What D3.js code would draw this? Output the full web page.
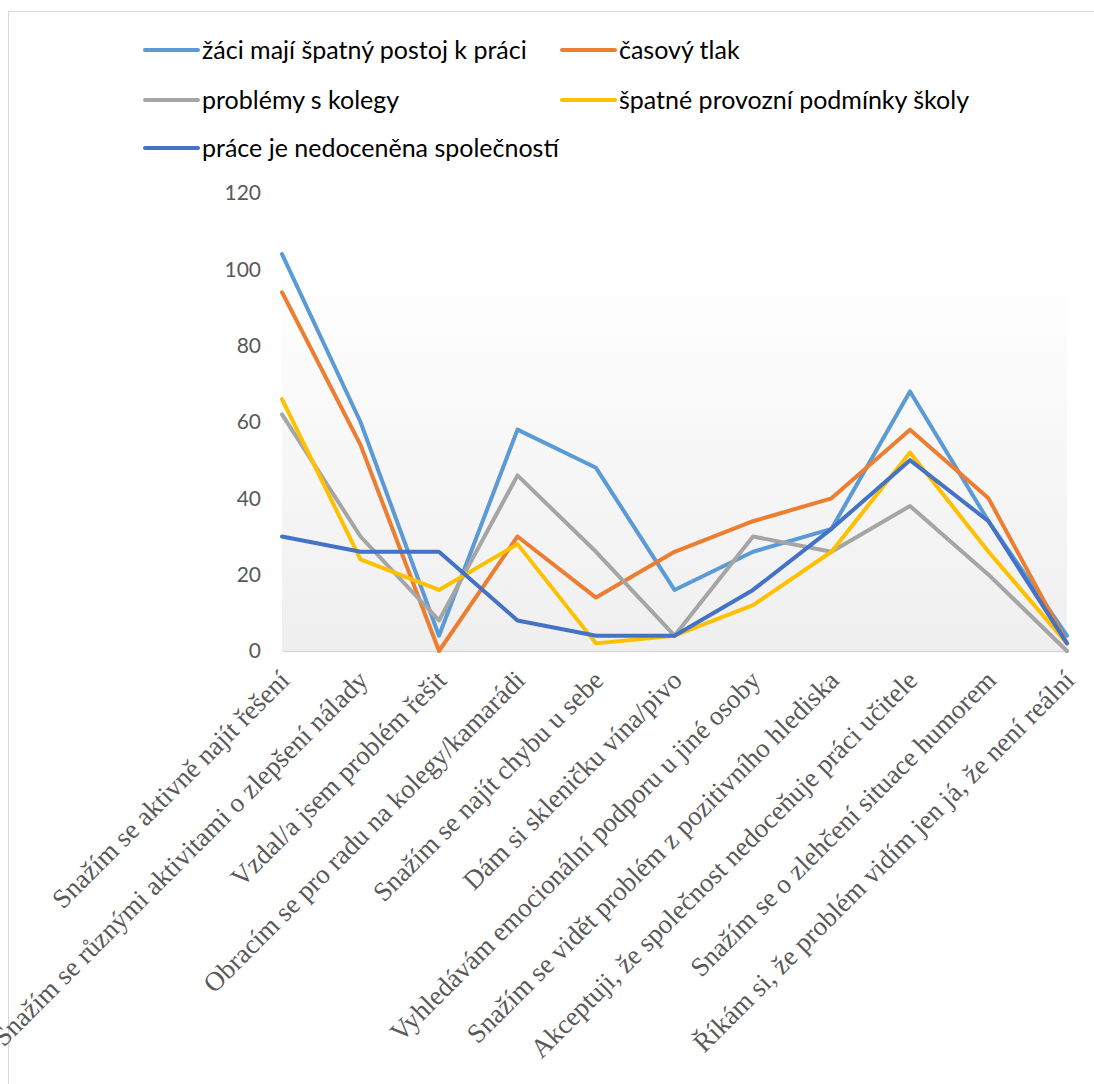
<!DOCTYPE html>
<html>
<head>
<meta charset="utf-8">
<script src="https://cdn.jsdelivr.net/npm/d3@7"></script>
<style>
  html, body { margin: 0; padding: 0; background: #fff; }
  svg { display: block; }
</style>
</head>
<body>
<div id="viz"></div>
<script>
'use strict';

// categories (x axis)
const categories = [
  'Snažím se aktivně najít řešení',
  'Snažím se různými aktivitami o zlepšení nálady',
  'Vzdal/a jsem problém řešit',
  'Obracím se pro radu na kolegy/kamarádi',
  'Snažím se najít chybu u sebe',
  'Dám si skleničku vína/pivo',
  'Vyhledávám emocionální podporu u jiné osoby',
  'Snažím se vidět problém z pozitivního hlediska',
  'Akceptuji, že společnost nedoceňuje práci učitele',
  'Snažím se o zlehčení situace humorem',
  'Říkám si, že problém vidím jen já, že není reální'
];

// series names
const seriesNames = [
  'žáci mají špatný postoj k práci',
  'časový tlak',
  'problémy s kolegy',
  'špatné provozní podmínky školy',
  'práce je nedoceněna společností'
];

// series values
const zaciValues = [104, 60, 4, 58, 48, 16, 26, 32, 68, 34, 4];
const casovyValues = [94, 54, 0, 30, 14, 26, 34, 40, 58, 40, 2];
const kolegoveValues = [62, 30, 8, 46, 26, 4, 30, 26, 38, 20, 0];
const podminkyValues = [66, 24, 16, 28, 2, 4, 12, 26, 52, 26, 2];
const nedocenenaValues = [30, 26, 26, 8, 4, 4, 16, 32, 50, 34, 2];

const yTicks = [0, 20, 40, 60, 80, 100, 120];

const colors = ['#5B9BD5', '#ED7D31', '#A5A5A5', '#FFC000', '#4472C4'];

const series = [zaciValues, casovyValues, kolegoveValues, podminkyValues, nedocenenaValues]
  .map((vals, i) => ({ name: seriesNames[i], color: colors[i], values: vals }));

const W = 1094, H = 1084;
const plot = { left: 282, right: 1067, top: 193, bottom: 651 };

const svg = d3.select('#viz').append('svg')
  .attr('width', W)
  .attr('height', H);

// chart border
svg.append('rect')
  .attr('x', 8.5).attr('y', 11.5)
  .attr('width', W).attr('height', H)
  .attr('fill', 'none')
  .attr('stroke', '#d9d9d9')
  .attr('stroke-width', 1);

// plot background gradient
const defs = svg.append('defs');
const grad = defs.append('linearGradient')
  .attr('id', 'plotGrad')
  .attr('x1', 0).attr('y1', 0).attr('x2', 0).attr('y2', 1);
grad.append('stop').attr('offset', '0%').attr('stop-color', '#ffffff');
grad.append('stop').attr('offset', '15%').attr('stop-color', '#fdfdfd');
grad.append('stop').attr('offset', '100%').attr('stop-color', '#efefef');

const xScale = d3.scalePoint()
  .domain(categories)
  .range([plot.left, plot.right]);

const yScale = d3.scaleLinear()
  .domain([0, 120])
  .range([plot.bottom, plot.top]);

svg.append('rect')
  .attr('x', plot.left)
  .attr('y', yScale(100) - 18)
  .attr('width', plot.right - plot.left)
  .attr('height', plot.bottom - yScale(100) + 18)
  .attr('fill', 'url(#plotGrad)');

// y axis (labels only)
const yAxis = svg.append('g')
  .attr('class', 'y axis')
  .attr('transform', `translate(${plot.left},0)`)
  .call(d3.axisLeft(yScale).tickValues(yTicks).tickSize(0).tickPadding(21));
yAxis.select('.domain').remove();
yAxis.selectAll('text')
  .style('font-family', 'Lato, "Open Sans", sans-serif')
  .style('font-size', '21px')
  .attr('fill', '#595959');

// x axis line
const xAxis = svg.append('g')
  .attr('class', 'x axis')
  .attr('transform', `translate(0,${plot.bottom})`)
  .call(d3.axisBottom(xScale).tickSize(0).tickFormat(''));
xAxis.select('.domain')
  .attr('stroke', '#d9d9d9')
  .attr('stroke-width', 1.5);

// rotated category labels
svg.append('g')
  .attr('class', 'x labels')
  .selectAll('text')
  .data(categories)
  .join('text')
  .attr('transform', d => `translate(${xScale(d) + 9},${plot.bottom + 31}) rotate(-45)`)
  .attr('text-anchor', 'end')
  .style('font-family', '"Liberation Serif", "Times New Roman", serif')
  .style('font-size', '27px')
  .attr('fill', '#595959')
  .text(d => d);

// lines
const line = d3.line()
  .x((d, i) => xScale(categories[i]))
  .y(d => yScale(d));

svg.append('g')
  .attr('class', 'lines')
  .selectAll('path')
  .data(series)
  .join('path')
  .attr('d', d => line(d.values))
  .attr('fill', 'none')
  .attr('stroke', d => d.color)
  .attr('stroke-width', 4)
  .attr('stroke-linejoin', 'round')
  .attr('stroke-linecap', 'round');

// legend
const legendPos = [
  { x: 145, y: 50 },
  { x: 562, y: 50 },
  { x: 145, y: 100 },
  { x: 562, y: 100 },
  { x: 145, y: 148 }
];

const legend = svg.append('g').attr('class', 'legend')
  .selectAll('g')
  .data(series)
  .join('g')
  .attr('transform', (d, i) => `translate(${legendPos[i].x},${legendPos[i].y})`);

legend.append('line')
  .attr('x1', 0).attr('x2', 53)
  .attr('y1', 0).attr('y2', 0)
  .attr('stroke', d => d.color)
  .attr('stroke-width', 4)
  .attr('stroke-linecap', 'round');

legend.append('text')
  .attr('x', 57)
  .attr('y', 9)
  .style('font-family', 'Lato, "Open Sans", sans-serif')
  .style('font-size', '25px')
  .attr('fill', '#000')
  .text(d => d.name);
</script>
</body>
</html>
